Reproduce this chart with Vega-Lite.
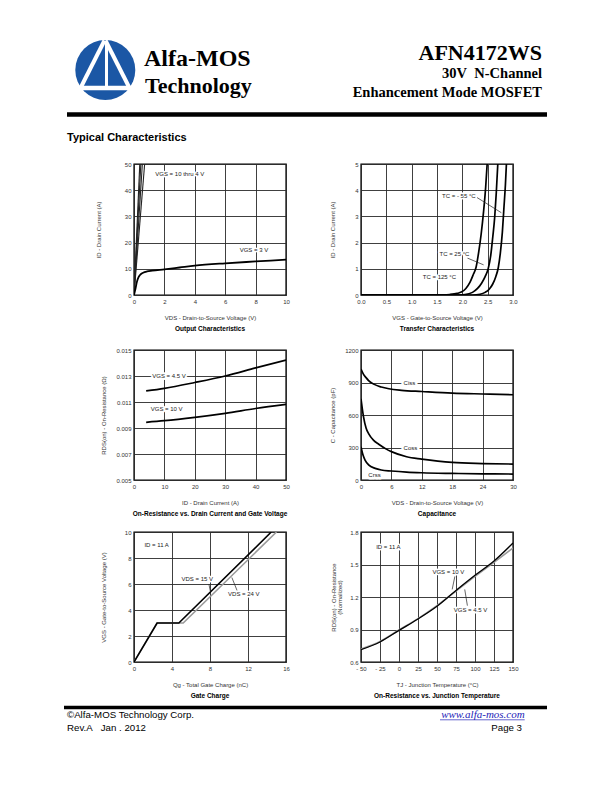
{
  "$schema": "https://vega.github.io/schema/vega-lite/v6.json",
  "autosize": {"type": "pad"},
  "padding": {"left": 62, "top": 30, "right": 0, "bottom": 0},
  "background": "white",
  "bounds": "flush",
  "columns": 2,
  "spacing": {"row": 0, "column": 75},
  "datasets": {
    "c1": [
      {"s": "10 V", "x": 0, "y": 0}, {"s": "10 V", "x": 0.38, "y": 50},
      {"s": "8 V", "x": 0, "y": 0}, {"s": "8 V", "x": 0.45, "y": 50},
      {"s": "6 V", "x": 0, "y": 0}, {"s": "6 V", "x": 0.55, "y": 50},
      {"s": "4 V", "x": 0, "y": 0}, {"s": "4 V", "x": 0.7, "y": 50},
      {"s": "3 V", "x": 0, "y": 0}, {"s": "3 V", "x": 0.1, "y": 2.5}, {"s": "3 V", "x": 0.2, "y": 5.2}, {"s": "3 V", "x": 0.3, "y": 6.8}, {"s": "3 V", "x": 0.42, "y": 7.8}, {"s": "3 V", "x": 0.6, "y": 8.5}, {"s": "3 V", "x": 0.86, "y": 9}, {"s": "3 V", "x": 1.2, "y": 9.3}, {"s": "3 V", "x": 2, "y": 9.8}, {"s": "3 V", "x": 3, "y": 10.5}, {"s": "3 V", "x": 4, "y": 11.2}, {"s": "3 V", "x": 6, "y": 12.1}, {"s": "3 V", "x": 8, "y": 12.8}, {"s": "3 V", "x": 10, "y": 13.5}
    ],
    "l1": [
      {"x": 1.4, "y": 46.2, "t": "VGS = 10 thru 4 V"},
      {"x": 6.95, "y": 17.2, "t": "VGS = 3 V"}
    ],
    "c2": [
      {"s": "125", "x": 0, "y": 0}, {"s": "125", "x": 1.5, "y": 0}, {"s": "125", "x": 1.75, "y": 0.02}, {"s": "125", "x": 1.9, "y": 0.06}, {"s": "125", "x": 1.98, "y": 0.11}, {"s": "125", "x": 2.07, "y": 0.25}, {"s": "125", "x": 2.15, "y": 0.48}, {"s": "125", "x": 2.22, "y": 0.8}, {"s": "125", "x": 2.27, "y": 1.05}, {"s": "125", "x": 2.32, "y": 1.6}, {"s": "125", "x": 2.37, "y": 2.3}, {"s": "125", "x": 2.42, "y": 3.2}, {"s": "125", "x": 2.46, "y": 4.1}, {"s": "125", "x": 2.49, "y": 5},
      {"s": "25", "x": 0, "y": 0}, {"s": "25", "x": 1.85, "y": 0}, {"s": "25", "x": 2.05, "y": 0.02}, {"s": "25", "x": 2.2, "y": 0.1}, {"s": "25", "x": 2.3, "y": 0.25}, {"s": "25", "x": 2.38, "y": 0.45}, {"s": "25", "x": 2.45, "y": 0.7}, {"s": "25", "x": 2.51, "y": 1.0}, {"s": "25", "x": 2.56, "y": 1.5}, {"s": "25", "x": 2.6, "y": 2.2}, {"s": "25", "x": 2.64, "y": 3.0}, {"s": "25", "x": 2.67, "y": 3.9}, {"s": "25", "x": 2.7, "y": 5},
      {"s": "-55", "x": 0, "y": 0}, {"s": "-55", "x": 2.2, "y": 0}, {"s": "-55", "x": 2.35, "y": 0.03}, {"s": "-55", "x": 2.45, "y": 0.1}, {"s": "-55", "x": 2.53, "y": 0.22}, {"s": "-55", "x": 2.6, "y": 0.42}, {"s": "-55", "x": 2.66, "y": 0.7}, {"s": "-55", "x": 2.71, "y": 1.05}, {"s": "-55", "x": 2.75, "y": 1.6}, {"s": "-55", "x": 2.79, "y": 2.4}, {"s": "-55", "x": 2.82, "y": 3.3}, {"s": "-55", "x": 2.85, "y": 4.2}, {"s": "-55", "x": 2.87, "y": 5}
    ],
    "l2": [
      {"x": 1.6, "y": 3.78, "t": "TC = - 55 °C"},
      {"x": 1.55, "y": 1.56, "t": "TC = 25 °C"},
      {"x": 1.22, "y": 0.68, "t": "TC = 125 °C"}
    ],
    "a2": [
      {"x": 2.29, "y": 3.72, "x2": 2.77, "y2": 3.14},
      {"x": 2.1, "y": 1.41, "x2": 2.42, "y2": 1.15}
    ],
    "c3": [
      {"s": "4.5 V", "x": 4, "y": 0.01185}, {"s": "4.5 V", "x": 10, "y": 0.01205}, {"s": "4.5 V", "x": 20, "y": 0.0125}, {"s": "4.5 V", "x": 30, "y": 0.013}, {"s": "4.5 V", "x": 40, "y": 0.01362}, {"s": "4.5 V", "x": 50, "y": 0.01423},
      {"s": "10 V", "x": 4, "y": 0.00944}, {"s": "10 V", "x": 10, "y": 0.00956}, {"s": "10 V", "x": 20, "y": 0.00982}, {"s": "10 V", "x": 30, "y": 0.01013}, {"s": "10 V", "x": 40, "y": 0.0105}, {"s": "10 V", "x": 50, "y": 0.01082}
    ],
    "l3": [
      {"x": 6, "y": 0.013, "t": "VGS = 4.5 V"},
      {"x": 5.5, "y": 0.01044, "t": "VGS = 10 V"}
    ],
    "c4": [
      {"s": "Ciss", "x": 0, "y": 1025}, {"s": "Ciss", "x": 0.5, "y": 975}, {"s": "Ciss", "x": 1, "y": 945}, {"s": "Ciss", "x": 1.5, "y": 918}, {"s": "Ciss", "x": 2.5, "y": 885}, {"s": "Ciss", "x": 4, "y": 858}, {"s": "Ciss", "x": 5.5, "y": 842}, {"s": "Ciss", "x": 8, "y": 828}, {"s": "Ciss", "x": 12, "y": 817}, {"s": "Ciss", "x": 18, "y": 802}, {"s": "Ciss", "x": 24, "y": 794}, {"s": "Ciss", "x": 30, "y": 787},
      {"s": "Coss", "x": 0, "y": 750}, {"s": "Coss", "x": 0.25, "y": 660}, {"s": "Coss", "x": 0.5, "y": 582}, {"s": "Coss", "x": 1, "y": 480}, {"s": "Coss", "x": 1.5, "y": 428}, {"s": "Coss", "x": 2.5, "y": 365}, {"s": "Coss", "x": 3.5, "y": 330}, {"s": "Coss", "x": 5, "y": 285}, {"s": "Coss", "x": 6, "y": 262}, {"s": "Coss", "x": 9, "y": 215}, {"s": "Coss", "x": 12, "y": 193}, {"s": "Coss", "x": 18, "y": 162}, {"s": "Coss", "x": 24, "y": 152}, {"s": "Coss", "x": 30, "y": 147},
      {"s": "Crss", "x": 0, "y": 306}, {"s": "Crss", "x": 0.4, "y": 230}, {"s": "Crss", "x": 0.8, "y": 184}, {"s": "Crss", "x": 1.5, "y": 140}, {"s": "Crss", "x": 2.8, "y": 107}, {"s": "Crss", "x": 4, "y": 92}, {"s": "Crss", "x": 6, "y": 83}, {"s": "Crss", "x": 9, "y": 73}, {"s": "Crss", "x": 12, "y": 67}, {"s": "Crss", "x": 18, "y": 61}, {"s": "Crss", "x": 24, "y": 57}, {"s": "Crss", "x": 30, "y": 55}
    ],
    "l4": [
      {"x": 8.4, "y": 900, "t": "Ciss"},
      {"x": 8.4, "y": 295, "t": "Coss"},
      {"x": 1.45, "y": 46, "t": "Crss"}
    ],
    "c5": [
      {"s": "15 V", "x": 0, "y": 0}, {"s": "15 V", "x": 2.43, "y": 3}, {"s": "15 V", "x": 4.72, "y": 3}, {"s": "15 V", "x": 14.45, "y": 10},
      {"s": "24 V", "x": 0, "y": 0}, {"s": "24 V", "x": 2.43, "y": 3}, {"s": "24 V", "x": 5.18, "y": 3}, {"s": "24 V", "x": 15.0, "y": 10}
    ],
    "l5": [
      {"x": 1.1, "y": 9.0, "t": "ID = 11 A"},
      {"x": 5.0, "y": 6.35, "t": "VDS = 15 V"},
      {"x": 9.9, "y": 5.2, "t": "VDS = 24 V"}
    ],
    "a5": [
      {"x": 7.88, "y": 6.0, "x2": 8.05, "y2": 5.4},
      {"x": 10.85, "y": 5.5, "x2": 10.3, "y2": 6.5}
    ],
    "c6": [
      {"s": "4.5 V", "x": -50, "y": 0.72}, {"s": "4.5 V", "x": -25, "y": 0.79}, {"s": "4.5 V", "x": 0, "y": 0.895}, {"s": "4.5 V", "x": 25, "y": 1.0}, {"s": "4.5 V", "x": 50, "y": 1.12}, {"s": "4.5 V", "x": 75, "y": 1.255}, {"s": "4.5 V", "x": 100, "y": 1.39}, {"s": "4.5 V", "x": 125, "y": 1.52}, {"s": "4.5 V", "x": 150, "y": 1.652},
      {"s": "10 V", "x": -50, "y": 0.714}, {"s": "10 V", "x": -25, "y": 0.785}, {"s": "10 V", "x": 0, "y": 0.892}, {"s": "10 V", "x": 25, "y": 0.997}, {"s": "10 V", "x": 50, "y": 1.114}, {"s": "10 V", "x": 75, "y": 1.26}, {"s": "10 V", "x": 100, "y": 1.4}, {"s": "10 V", "x": 125, "y": 1.532}, {"s": "10 V", "x": 150, "y": 1.698}
    ],
    "l6": [
      {"x": -30, "y": 1.66, "t": "ID = 11 A"},
      {"x": 44, "y": 1.43, "t": "VGS = 10 V"},
      {"x": 72, "y": 1.077, "t": "VGS = 4.5 V"}
    ],
    "a6": [
      {"x": 73.5, "y": 1.39, "x2": 70, "y2": 1.27},
      {"x": 90, "y": 1.12, "x2": 86.5, "y2": 1.27}
    ]
  },
  "concat": [
    {
      "width": 152, "height": 134,
      "view": {"stroke": null},
      "data": {"values": [{}]},
      "layer": [
        {"mark": {"type": "point", "shape": "circle", "filled": true, "size": 3600, "color": "#1b57a5", "opacity": 1},
         "encoding": {"x": {"datum": 41.3, "type": "quantitative", "scale": {"domain": [70, 222], "nice": false, "zero": false}, "axis": null}, "y": {"datum": 40, "type": "quantitative", "scale": {"domain": [0, 134], "reverse": true, "nice": false}, "axis": null}}},
        {"mark": {"type": "rule", "color": "white", "strokeWidth": 4},
         "encoding": {"x": {"datum": 17, "type": "quantitative", "scale": {"domain": [70, 222], "nice": false, "zero": false}, "axis": null}, "y": {"datum": 57, "type": "quantitative", "scale": {"domain": [0, 134], "reverse": true, "nice": false}, "axis": null}, "x2": {"datum": 40.5}, "y2": {"datum": 10.5}}},
        {"mark": {"type": "rule", "color": "white", "strokeWidth": 4},
         "encoding": {"x": {"datum": 41.5, "type": "quantitative", "scale": {"domain": [70, 222], "nice": false, "zero": false}, "axis": null}, "y": {"datum": 10.5, "type": "quantitative", "scale": {"domain": [0, 134], "reverse": true, "nice": false}, "axis": null}, "x2": {"datum": 65}, "y2": {"datum": 57}}},
        {"mark": {"type": "rule", "color": "white", "strokeWidth": 3},
         "encoding": {"x": {"datum": 42.5, "type": "quantitative", "scale": {"domain": [70, 222], "nice": false, "zero": false}, "axis": null}, "y": {"datum": 12, "type": "quantitative", "scale": {"domain": [0, 134], "reverse": true, "nice": false}, "axis": null}, "y2": {"datum": 57}}},
        {"mark": {"type": "rule", "color": "white", "strokeWidth": 4.5},
         "encoding": {"x": {"datum": 10, "type": "quantitative", "scale": {"domain": [70, 222], "nice": false, "zero": false}, "axis": null}, "y": {"datum": 58, "type": "quantitative", "scale": {"domain": [0, 134], "reverse": true, "nice": false}, "axis": null}, "x2": {"datum": 73}}},
        {"mark": {"type": "text", "text": "Alfa-MOS", "font": "Liberation Serif", "fontWeight": "bold", "fontSize": 24, "align": "left", "baseline": "alphabetic", "color": "#000"},
         "encoding": {"x": {"datum": 80, "type": "quantitative", "scale": {"domain": [70, 222], "nice": false, "zero": false}, "axis": null}, "y": {"datum": 36, "type": "quantitative", "scale": {"domain": [0, 134], "reverse": true, "nice": false}, "axis": null}}},
        {"mark": {"type": "text", "text": "Technology", "font": "Liberation Serif", "fontWeight": "bold", "fontSize": 22, "align": "left", "baseline": "alphabetic", "color": "#000"},
         "encoding": {"x": {"datum": 81, "type": "quantitative", "scale": {"domain": [70, 222], "nice": false, "zero": false}, "axis": null}, "y": {"datum": 62.7, "type": "quantitative", "scale": {"domain": [0, 134], "reverse": true, "nice": false}, "axis": null}}},
        {"mark": {"type": "text", "text": "AFN4172WS", "font": "Liberation Serif", "fontWeight": "bold", "fontSize": 22, "align": "right", "baseline": "alphabetic", "color": "#000"},
         "encoding": {"x": {"datum": 478, "type": "quantitative", "scale": {"domain": [70, 222], "nice": false, "zero": false}, "axis": null}, "y": {"datum": 30, "type": "quantitative", "scale": {"domain": [0, 134], "reverse": true, "nice": false}, "axis": null}}},
        {"mark": {"type": "text", "text": "30V\u00a0\u00a0N-Channel", "font": "Liberation Serif", "fontWeight": "bold", "fontSize": 14.5, "align": "right", "baseline": "alphabetic", "color": "#000"},
         "encoding": {"x": {"datum": 478, "type": "quantitative", "scale": {"domain": [70, 222], "nice": false, "zero": false}, "axis": null}, "y": {"datum": 47.7, "type": "quantitative", "scale": {"domain": [0, 134], "reverse": true, "nice": false}, "axis": null}}},
        {"mark": {"type": "text", "text": "Enhancement Mode MOSFET", "font": "Liberation Serif", "fontWeight": "bold", "fontSize": 14.5, "align": "right", "baseline": "alphabetic", "color": "#000"},
         "encoding": {"x": {"datum": 478, "type": "quantitative", "scale": {"domain": [70, 222], "nice": false, "zero": false}, "axis": null}, "y": {"datum": 66.7, "type": "quantitative", "scale": {"domain": [0, 134], "reverse": true, "nice": false}, "axis": null}}},
        {"mark": {"type": "rule", "color": "#000", "strokeWidth": 4.5},
         "encoding": {"x": {"datum": 3, "type": "quantitative", "scale": {"domain": [70, 222], "nice": false, "zero": false}, "axis": null}, "y": {"datum": 84.5, "type": "quantitative", "scale": {"domain": [0, 134], "reverse": true, "nice": false}, "axis": null}, "x2": {"datum": 483}}},
        {"mark": {"type": "text", "text": "Typical Characteristics", "font": "Liberation Sans", "fontWeight": "bold", "fontSize": 11, "align": "left", "baseline": "alphabetic", "color": "#000"},
         "encoding": {"x": {"datum": 3, "type": "quantitative", "scale": {"domain": [70, 222], "nice": false, "zero": false}, "axis": null}, "y": {"datum": 111, "type": "quantitative", "scale": {"domain": [0, 134], "reverse": true, "nice": false}, "axis": null}}}
      ]
    },
    {"width": 152, "height": 1, "view": {"stroke": null}, "data": {"values": []}, "mark": "point"},
    {
      "width": 152, "height": 131,
      "title": "Output Characteristics",
      "encoding": {
        "x": {"field": "x", "type": "quantitative", "scale": {"domain": [0, 10], "nice": false}, "axis": {"values": [0, 2, 4, 6, 8, 10], "title": "VDS - Drain-to-Source Voltage (V)"}},
        "y": {"field": "y", "type": "quantitative", "scale": {"domain": [0, 50], "nice": false}, "axis": {"values": [0, 10, 20, 30, 40, 50], "title": "ID - Drain Current (A)", "titleX": -35.5}}
      },
      "layer": [
        {"data": {"name": "c1"}, "transform": [{"filter": "datum.s != '3 V'"}], "mark": {"type": "line", "color": "#222", "strokeWidth": 1.1, "clip": true}, "encoding": {"detail": {"field": "s"}}},
        {"data": {"name": "c1"}, "transform": [{"filter": "datum.s == '3 V'"}], "mark": {"type": "line", "color": "#000", "strokeWidth": 1.8, "interpolate": "monotone", "clip": true}},
        {"data": {"name": "l1"}, "mark": {"type": "text", "align": "left", "baseline": "middle", "fontSize": 6, "color": "white", "stroke": "white", "strokeWidth": 3, "strokeJoin": "round"}, "encoding": {"text": {"field": "t"}}},
        {"data": {"name": "l1"}, "mark": {"type": "text", "align": "left", "baseline": "middle", "fontSize": 6, "color": "#222"}, "encoding": {"text": {"field": "t"}}}
      ]
    },
    {
      "width": 152, "height": 131,
      "title": "Transfer Characteristics",
      "encoding": {
        "x": {"field": "x", "type": "quantitative", "scale": {"domain": [0, 3], "nice": false}, "axis": {"values": [0, 0.5, 1, 1.5, 2, 2.5, 3], "format": ".1f", "title": "VGS - Gate-to-Source Voltage (V)"}},
        "y": {"field": "y", "type": "quantitative", "scale": {"domain": [0, 5], "nice": false}, "axis": {"values": [0, 1, 2, 3, 4, 5], "title": "ID - Drain Current (A)", "titleX": -29}}
      },
      "layer": [
        {"data": {"name": "c2"}, "mark": {"type": "line", "color": "#000", "strokeWidth": 1.7, "interpolate": "monotone", "clip": true}, "encoding": {"detail": {"field": "s"}}},
        {"data": {"name": "a2"}, "mark": {"type": "rule", "color": "#222", "strokeWidth": 0.7}, "encoding": {"x2": {"field": "x2"}, "y2": {"field": "y2"}}},
        {"data": {"name": "l2"}, "mark": {"type": "text", "align": "left", "baseline": "middle", "fontSize": 6, "color": "white", "stroke": "white", "strokeWidth": 3, "strokeJoin": "round"}, "encoding": {"text": {"field": "t"}}},
        {"data": {"name": "l2"}, "mark": {"type": "text", "align": "left", "baseline": "middle", "fontSize": 6, "color": "#222"}, "encoding": {"text": {"field": "t"}}}
      ]
    },
    {"width": 152, "height": 55, "view": {"stroke": null}, "data": {"values": []}, "mark": "point"},
    {"width": 152, "height": 55, "view": {"stroke": null}, "data": {"values": []}, "mark": "point"},
    {
      "width": 152, "height": 130,
      "title": "On-Resistance vs. Drain Current and Gate Voltage",
      "encoding": {
        "x": {"field": "x", "type": "quantitative", "scale": {"domain": [0, 50], "nice": false}, "axis": {"values": [0, 10, 20, 30, 40, 50], "title": "ID - Drain Current (A)"}},
        "y": {"field": "y", "type": "quantitative", "scale": {"domain": [0.005, 0.015], "nice": false, "zero": false}, "axis": {"values": [0.005, 0.007, 0.009, 0.011, 0.013, 0.015], "format": ".3f", "title": "RDS(on) - On-Resistance (Ω)", "titleX": -30.3}}
      },
      "layer": [
        {"data": {"name": "c3"}, "mark": {"type": "line", "color": "#000", "strokeWidth": 1.7, "interpolate": "monotone", "clip": true}, "encoding": {"detail": {"field": "s"}}},
        {"data": {"name": "l3"}, "mark": {"type": "text", "align": "left", "baseline": "middle", "fontSize": 6, "color": "white", "stroke": "white", "strokeWidth": 4, "strokeJoin": "round"}, "encoding": {"text": {"field": "t"}}},
        {"data": {"name": "l3"}, "mark": {"type": "text", "align": "left", "baseline": "middle", "fontSize": 6, "color": "#222"}, "encoding": {"text": {"field": "t"}}}
      ]
    },
    {
      "width": 152, "height": 130,
      "title": "Capacitance",
      "encoding": {
        "x": {"field": "x", "type": "quantitative", "scale": {"domain": [0, 30], "nice": false}, "axis": {"values": [0, 6, 12, 18, 24, 30], "title": "VDS - Drain-to-Source Voltage (V)"}},
        "y": {"field": "y", "type": "quantitative", "scale": {"domain": [0, 1200], "nice": false}, "axis": {"values": [0, 300, 600, 900, 1200], "format": "d", "title": "C - Capacitance (pF)", "titleX": -28.3}}
      },
      "layer": [
        {"data": {"name": "c4"}, "mark": {"type": "line", "color": "#000", "strokeWidth": 1.7, "interpolate": "monotone", "clip": true}, "encoding": {"detail": {"field": "s"}}},
        {"data": {"name": "l4"}, "mark": {"type": "text", "align": "left", "baseline": "middle", "fontSize": 6, "color": "white", "stroke": "white", "strokeWidth": 5, "strokeJoin": "round"}, "encoding": {"text": {"field": "t"}}},
        {"data": {"name": "l4"}, "mark": {"type": "text", "align": "left", "baseline": "middle", "fontSize": 6, "color": "#222"}, "encoding": {"text": {"field": "t"}}}
      ]
    },
    {"width": 152, "height": 52, "view": {"stroke": null}, "data": {"values": []}, "mark": "point"},
    {"width": 152, "height": 52, "view": {"stroke": null}, "data": {"values": []}, "mark": "point"},
    {
      "width": 152, "height": 130,
      "title": "Gate Charge",
      "encoding": {
        "x": {"field": "x", "type": "quantitative", "scale": {"domain": [0, 16], "nice": false}, "axis": {"values": [0, 4, 8, 12, 16], "title": "Qg - Total Gate Charge (nC)"}},
        "y": {"field": "y", "type": "quantitative", "scale": {"domain": [0, 10], "nice": false}, "axis": {"values": [0, 2, 4, 6, 8, 10], "title": "VGS - Gate-to-Source Voltage (V)", "titleX": -31}}
      },
      "layer": [
        {"data": {"name": "c5"}, "transform": [{"filter": "datum.s == '24 V'"}], "mark": {"type": "line", "color": "#9a9a9a", "strokeWidth": 1.6, "clip": true}},
        {"data": {"name": "c5"}, "transform": [{"filter": "datum.s == '15 V'"}], "mark": {"type": "line", "color": "#000", "strokeWidth": 1.6, "clip": true}},
        {"data": {"name": "a5"}, "mark": {"type": "rule", "color": "#222", "strokeWidth": 0.7}, "encoding": {"x2": {"field": "x2"}, "y2": {"field": "y2"}}},
        {"data": {"name": "l5"}, "mark": {"type": "text", "align": "left", "baseline": "middle", "fontSize": 6, "color": "white", "stroke": "white", "strokeWidth": 3, "strokeJoin": "round"}, "encoding": {"text": {"field": "t"}}},
        {"data": {"name": "l5"}, "mark": {"type": "text", "align": "left", "baseline": "middle", "fontSize": 6, "color": "#222"}, "encoding": {"text": {"field": "t"}}}
      ]
    },
    {
      "width": 152, "height": 130,
      "title": "On-Resistance vs. Junction Temperature",
      "encoding": {
        "x": {"field": "x", "type": "quantitative", "scale": {"domain": [-50, 150], "nice": false, "zero": false}, "axis": {"values": [-50, -25, 0, 25, 50, 75, 100, 125, 150], "labelExpr": "datum.value < 0 ? '- ' + abs(datum.value) : datum.label", "title": "TJ - Junction Temperature (°C)"}},
        "y": {"field": "y", "type": "quantitative", "scale": {"domain": [0.6, 1.8], "nice": false, "zero": false}, "axis": {"values": [0.6, 0.9, 1.2, 1.5, 1.8], "format": ".1f", "title": ["RDS(on) - On-Resistance", "(Normalized)"], "titleX": -28, "titleLineHeight": 6}}
      },
      "layer": [
        {"data": {"name": "c6"}, "transform": [{"filter": "datum.s == '4.5 V'"}], "mark": {"type": "line", "color": "#9a9a9a", "strokeWidth": 1.6, "interpolate": "monotone", "clip": true}},
        {"data": {"name": "c6"}, "transform": [{"filter": "datum.s == '10 V'"}], "mark": {"type": "line", "color": "#000", "strokeWidth": 1.3, "interpolate": "monotone", "clip": true}},
        {"data": {"name": "a6"}, "mark": {"type": "rule", "color": "#222", "strokeWidth": 0.7}, "encoding": {"x2": {"field": "x2"}, "y2": {"field": "y2"}}},
        {"data": {"name": "l6"}, "mark": {"type": "text", "align": "left", "baseline": "middle", "fontSize": 6, "color": "white", "stroke": "white", "strokeWidth": 3, "strokeJoin": "round"}, "encoding": {"text": {"field": "t"}}},
        {"data": {"name": "l6"}, "mark": {"type": "text", "align": "left", "baseline": "middle", "fontSize": 6, "color": "#222"}, "encoding": {"text": {"field": "t"}}}
      ]
    },
    {
      "width": 152, "height": 130,
      "view": {"stroke": null},
      "data": {"values": [{}]},
      "layer": [
        {"mark": {"type": "rule", "color": "#000", "strokeWidth": 3.5},
         "encoding": {"x": {"datum": 0, "type": "quantitative", "scale": {"domain": [70, 222], "nice": false, "zero": false}, "axis": null}, "y": {"datum": 45.5, "type": "quantitative", "scale": {"domain": [0, 130], "reverse": true, "nice": false}, "axis": null}, "x2": {"datum": 483}}},
        {"mark": {"type": "text", "text": "©Alfa-MOS Technology Corp.", "font": "Liberation Sans", "fontSize": 9.7, "align": "left", "baseline": "alphabetic", "color": "#000"},
         "encoding": {"x": {"datum": 3, "type": "quantitative", "scale": {"domain": [70, 222], "nice": false, "zero": false}, "axis": null}, "y": {"datum": 56.3, "type": "quantitative", "scale": {"domain": [0, 130], "reverse": true, "nice": false}, "axis": null}}},
        {"mark": {"type": "text", "text": "Rev.A\u00a0\u00a0\u00a0Jan . 2012", "font": "Liberation Sans", "fontSize": 9.7, "align": "left", "baseline": "alphabetic", "color": "#000"},
         "encoding": {"x": {"datum": 3, "type": "quantitative", "scale": {"domain": [70, 222], "nice": false, "zero": false}, "axis": null}, "y": {"datum": 69, "type": "quantitative", "scale": {"domain": [0, 130], "reverse": true, "nice": false}, "axis": null}}},
        {"mark": {"type": "text", "text": "www.alfa-mos.com", "font": "Liberation Serif", "fontStyle": "italic", "fontSize": 11, "align": "right", "baseline": "alphabetic", "color": "#2323b8"},
         "encoding": {"x": {"datum": 460.7, "type": "quantitative", "scale": {"domain": [70, 222], "nice": false, "zero": false}, "axis": null}, "y": {"datum": 56, "type": "quantitative", "scale": {"domain": [0, 130], "reverse": true, "nice": false}, "axis": null}}},
        {"mark": {"type": "rule", "color": "#2323b8", "strokeWidth": 0.7},
         "encoding": {"x": {"datum": 376, "type": "quantitative", "scale": {"domain": [70, 222], "nice": false, "zero": false}, "axis": null}, "y": {"datum": 57.8, "type": "quantitative", "scale": {"domain": [0, 130], "reverse": true, "nice": false}, "axis": null}, "x2": {"datum": 460.7}}},
        {"mark": {"type": "text", "text": "Page 3", "font": "Liberation Sans", "fontSize": 9.7, "align": "right", "baseline": "alphabetic", "color": "#000"},
         "encoding": {"x": {"datum": 458, "type": "quantitative", "scale": {"domain": [70, 222], "nice": false, "zero": false}, "axis": null}, "y": {"datum": 69, "type": "quantitative", "scale": {"domain": [0, 130], "reverse": true, "nice": false}, "axis": null}}}
      ]
    },
    {"width": 152, "height": 1, "view": {"stroke": null}, "data": {"values": []}, "mark": "point"}
  ],
  "config": {
    "view": {"stroke": "#000", "strokeWidth": 1.4},
    "font": "Liberation Sans",
    "axis": {
      "grid": true, "gridColor": "#2a2a2a", "gridWidth": 0.9, "gridOpacity": 1,
      "domain": false, "ticks": false,
      "labelFont": "Liberation Sans", "labelFontSize": 6, "labelColor": "#333", "labelPadding": 3, "labelFlush": false, "labelOverlap": false,
      "titleFont": "Liberation Sans", "titleFontSize": 6, "titleFontWeight": "normal", "titleColor": "#333"
    },
    "axisX": {"titlePadding": 10},
    "axisY": {"titleBaseline": "middle"},
    "title": {"orient": "bottom", "anchor": "middle", "fontSize": 6.5, "fontWeight": "bold", "color": "#000", "offset": 6, "font": "Liberation Sans"},
    "text": {"font": "Liberation Sans"}
  }
}
